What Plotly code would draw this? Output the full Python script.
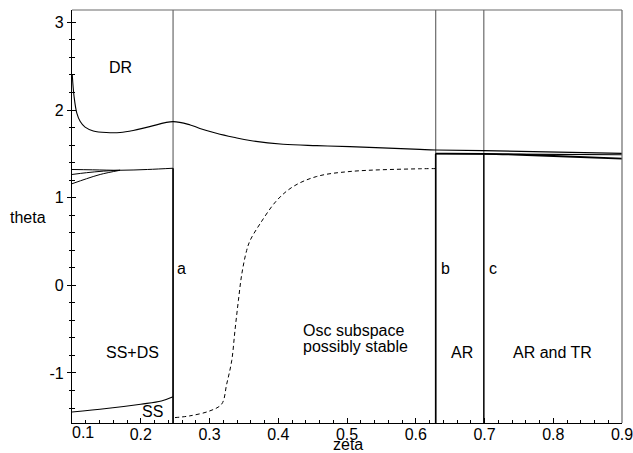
import math
import plotly.graph_objects as go

# ---------------- data ----------------
zeta_a, zeta_b, zeta_c = 0.247, 0.629, 0.699
theta_min, theta_max = -math.pi / 2, math.pi
zeta_min, zeta_max = 0.1, 0.9

# DR boundary curve
dr_zeta = [0.1004, 0.103, 0.107, 0.112, 0.119, 0.131, 0.150, 0.170, 0.189, 0.213,
           0.247, 0.272, 0.286, 0.310, 0.335, 0.359, 0.407, 0.456, 0.504, 0.606,
           0.629, 0.698, 0.9]
dr_theta = [2.40, 2.154, 1.965, 1.869, 1.805, 1.762, 1.743, 1.743, 1.766, 1.811,
            1.868, 1.830, 1.790, 1.736, 1.690, 1.652, 1.610, 1.594, 1.583, 1.551,
            1.545, 1.537, 1.506]

# dashed curve (osc subspace)
osc_zeta = [0.2498, 0.2716, 0.3007, 0.3177, 0.325, 0.3323, 0.337, 0.342, 0.347,
            0.354, 0.359, 0.3735, 0.3978, 0.4219, 0.456, 0.5044, 0.606, 0.628]
osc_theta = [-1.509, -1.489, -1.432, -1.355, -1.127, -0.86, -0.518, -0.175, 0.13,
             0.397, 0.511, 0.702, 0.968, 1.128, 1.242, 1.299, 1.330, 1.332]

# SS boundary (lower left)
ss_zeta = [0.1, 0.15, 0.2, 0.23, 0.247]
ss_theta = [-1.445, -1.405, -1.356, -1.32, -1.272]

# upper-left branches
top_zeta = [0.1, 0.13, 0.17, 0.21, 0.247]
top_theta = [1.322, 1.318, 1.313, 1.322, 1.336]
mid_zeta = [0.1, 0.121, 0.1455, 0.17]
mid_theta = [1.265, 1.285, 1.303, 1.313]
low_zeta = [0.1, 0.121, 0.141, 0.17]
low_theta = [1.159, 1.216, 1.265, 1.313]

# right branches from b
r1_zeta = [0.629, 0.9]
r1_theta = [1.502, 1.49]
r2_zeta = [0.629, 0.70, 0.752, 0.82, 0.9]
r2_theta = [1.502, 1.50, 1.49, 1.47, 1.445]

# black vertical boundary tops
a_top, b_top, c_top = 1.336, 1.502, 1.50

x_ticks = [0.1, 0.2, 0.3, 0.4, 0.5, 0.6, 0.7, 0.8, 0.9]
x_tick_text = ["", "0.2", "0.3", "0.4", "0.5", "0.6", "0.7", "0.8", "0.9"]
y_ticks = [-1, 0, 1, 2, 3]
y_tick_text = ["-1", "0", "1", "2", "3"]

# ---------------- figure ----------------
FONT = "Liberation Sans, Arial, sans-serif"
fig = go.Figure()

def line(x, y, width=1.0, color="black", dash=None, shape="linear", yaxis="y"):
    fig.add_trace(go.Scatter(x=x, y=y, mode="lines", yaxis=yaxis,
                             line=dict(color=color, width=width, dash=dash, shape=shape),
                             hoverinfo="skip", showlegend=False))

GRAY = "#6a6a6a"
# full-height gray separators
for z in (zeta_a, zeta_b, zeta_c):
    line([z, z], [theta_min, theta_max], 1.2, GRAY)
# black parts of separators
line([zeta_a, zeta_a], [theta_min, a_top], 1.6)
line([zeta_b, zeta_b], [theta_min, b_top], 1.6)
line([zeta_c, zeta_c], [theta_min, c_top], 1.3)

line(dr_zeta, dr_theta, 1.1, shape="spline")
line(osc_zeta, osc_theta, 1.0, dash="4px,3px", shape="spline")
line(ss_zeta, ss_theta, 1.1, shape="spline")
line(top_zeta, top_theta, 1.0, shape="spline")
line(mid_zeta, mid_theta, 1.0, shape="spline")
line(low_zeta, low_theta, 1.0, shape="spline")
line(r1_zeta, r1_theta, 1.2)
line(r2_zeta, r2_theta, 1.8, shape="spline")
# invisible trace for overlay axis (inside ticks)
fig.add_trace(go.Scatter(x=[zeta_min], y=[0], yaxis="y2", mode="markers",
                         marker=dict(opacity=0), hoverinfo="skip", showlegend=False))

ann_font = dict(family=FONT, size=16, color="black")
labels = [
    ("DR", 0.17, 2.48, "center"),
    ("SS+DS", 0.1887, -0.77, "center"),
    ("SS", 0.2164, -1.443, "center"),
    ("a", 0.2505, 0.19, "left"),
    ("b", 0.634, 0.19, "left"),
    ("c", 0.7035, 0.19, "left"),
    ("AR", 0.667, -0.766, "center"),
    ("AR and TR", 0.7996, -0.77, "center"),
    ("Osc subspace", 0.4335, -0.52, "left"),
    ("possibly stable", 0.4335, -0.70, "left"),
]
for txt, x, y, anc in labels:
    fig.add_annotation(x=x, y=y, text=txt, showarrow=False, xanchor=anc,
                       yanchor="middle", font=ann_font)

fig.add_annotation(x=-0.08, y=0.777, xref="paper", yref="y", text="theta",
                   showarrow=False, xanchor="center", yanchor="middle", font=ann_font)
fig.add_annotation(x=0.5018, y=-0.053, xref="paper", yref="paper", text="zeta",
                   showarrow=False, xanchor="center", yanchor="middle", font=ann_font)
fig.add_annotation(x=0.02, y=-0.024, xref="paper", yref="paper", text="0.1",
                   showarrow=False, xanchor="center", yanchor="middle", font=ann_font)

# frame top and right
fig.add_shape(type="line", xref="paper", yref="paper", x0=0, x1=1, y0=1, y1=1,
              line=dict(color=GRAY, width=1.2))
fig.add_shape(type="line", xref="paper", yref="paper", x0=1, x1=1, y0=0, y1=1,
              line=dict(color=GRAY, width=1.2))

fig.update_layout(
    width=633, height=453,
    margin=dict(l=72, r=11, t=10, b=30),
    paper_bgcolor="white", plot_bgcolor="white",
    font=dict(family=FONT, size=16, color="black"),
    showlegend=False,
    xaxis=dict(range=[zeta_min, zeta_max], tickvals=x_ticks, ticktext=x_tick_text,
               ticks="inside", ticklen=5, tickcolor="black", tickwidth=1,
               minor=dict(dtick=0.02, tick0=0.1, ticks="inside", ticklen=3,
                          tickcolor="black", showgrid=False),
               showgrid=False, zeroline=False, showline=True, linecolor="black",
               linewidth=1.2, tickfont=dict(size=16), automargin=False,
               ticklabeloverflow="allow", ticklabelstandoff=-3),
    yaxis=dict(range=[theta_min, theta_max], tickvals=y_ticks, ticktext=y_tick_text,
               ticks="outside", ticklen=4, tickcolor="black", tickwidth=1,
               minor=dict(dtick=0.2, tick0=0, ticks="outside", ticklen=2,
                          tickcolor="black", showgrid=False),
               showgrid=False, zeroline=False, showline=True, linecolor="black",
               linewidth=1.2, tickfont=dict(size=16), automargin=False),
    yaxis2=dict(range=[theta_min, theta_max], overlaying="y", anchor="x", side="left",
                tickvals=y_ticks, showticklabels=False,
                ticks="inside", ticklen=4, tickcolor="black", tickwidth=1,
                minor=dict(dtick=0.2, tick0=0, ticks="inside", ticklen=3,
                           tickcolor="black", showgrid=False),
                showgrid=False, zeroline=False, showline=False, automargin=False),
)

fig.write_html(
    "out.html",
    config={"displayModeBar": False},
    post_script="document.body.style.margin='0';document.body.style.overflow='hidden';",
)
